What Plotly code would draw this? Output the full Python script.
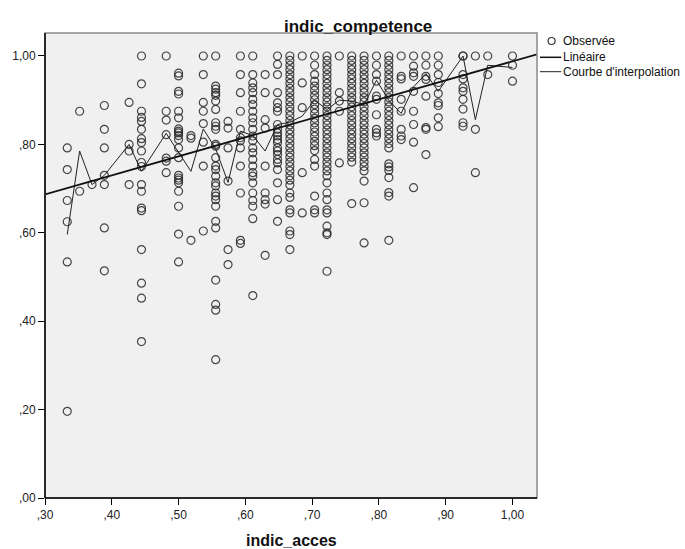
import plotly.graph_objects as go

# ---- data ----
acces_levels = [18/54, 19/54, 20/54, 21/54, 23/54, 24/54, 26/54, 27/54, 28/54, 29/54,
                30/54, 31/54, 32/54, 33/54, 34/54, 35/54, 36/54, 37/54, 38/54, 39/54,
                40/54, 41/54, 42/54, 43/54, 44/54, 45/54, 46/54, 47/54, 48/54, 50/54,
                51/54, 52/54, 54/54]

competence_by_level = [
    [0.792, 0.743, 0.673, 0.625, 0.534, 0.196],
    [0.875, 0.694],
    [0.709],
    [0.888, 0.834, 0.792, 0.730, 0.709, 0.611, 0.514],
    [0.895, 0.800, 0.785, 0.709],
    [1.0, 0.937, 0.875, 0.861, 0.852, 0.834, 0.813, 0.804, 0.785, 0.759, 0.750, 0.709,
     0.694, 0.656, 0.650, 0.562, 0.486, 0.452, 0.354],
    [1.0, 0.875, 0.855, 0.822, 0.769, 0.762, 0.736],
    [0.961, 0.955, 0.920, 0.914, 0.875, 0.860, 0.835, 0.830, 0.826, 0.820, 0.811, 0.792,
     0.770, 0.730, 0.724, 0.719, 0.713, 0.694, 0.660, 0.597, 0.534],
    [0.820, 0.814, 0.583],
    [1.0, 0.958, 0.895, 0.875, 0.847, 0.805, 0.751, 0.604],
    [1.0, 0.932, 0.925, 0.917, 0.911, 0.898, 0.879, 0.849, 0.841, 0.834, 0.800, 0.796,
     0.770, 0.751, 0.743, 0.728, 0.713, 0.706, 0.690, 0.683, 0.675, 0.660, 0.626, 0.611,
     0.493, 0.438, 0.425, 0.313],
    [0.852, 0.837, 0.792, 0.717, 0.562, 0.528],
    [1.0, 0.958, 0.917, 0.875, 0.834, 0.815, 0.808, 0.792, 0.751, 0.690, 0.583, 0.576],
    [1.0, 0.958, 0.939, 0.928, 0.917, 0.902, 0.890, 0.875, 0.860, 0.849, 0.834, 0.819,
     0.808, 0.792, 0.781, 0.766, 0.751, 0.736, 0.728, 0.713, 0.690, 0.673, 0.660, 0.632,
     0.458],
    [0.958, 0.917, 0.856, 0.837, 0.751, 0.690, 0.675, 0.665, 0.549],
    [1.0, 0.981, 0.958, 0.917, 0.894, 0.883, 0.875, 0.845, 0.834, 0.826, 0.819, 0.811,
     0.804, 0.792, 0.785, 0.777, 0.766, 0.758, 0.743, 0.713, 0.675, 0.626],
    [1.0, 0.990, 0.979, 0.969, 0.958, 0.948, 0.938, 0.927, 0.917, 0.906, 0.896, 0.885,
     0.875, 0.865, 0.854, 0.844, 0.833, 0.823, 0.813, 0.802, 0.792, 0.781, 0.771, 0.760,
     0.750, 0.740, 0.729, 0.719, 0.708, 0.690, 0.680, 0.652, 0.645, 0.604, 0.596, 0.562],
    [1.0, 0.939, 0.883, 0.736, 0.645],
    [1.0, 0.979, 0.958, 0.943, 0.932, 0.922, 0.911, 0.901, 0.890, 0.880, 0.870, 0.859,
     0.849, 0.838, 0.828, 0.818, 0.807, 0.797, 0.786, 0.766, 0.751, 0.683, 0.652, 0.645],
    [1.0, 0.990, 0.979, 0.969, 0.958, 0.948, 0.938, 0.927, 0.917, 0.906, 0.896, 0.885,
     0.875, 0.865, 0.854, 0.844, 0.833, 0.823, 0.813, 0.802, 0.792, 0.781, 0.771, 0.760,
     0.750, 0.740, 0.729, 0.713, 0.690, 0.675, 0.652, 0.645, 0.615, 0.600, 0.596, 0.513],
    [1.0, 0.917, 0.898, 0.875, 0.758],
    [1.0, 0.990, 0.979, 0.969, 0.958, 0.948, 0.938, 0.927, 0.917, 0.906, 0.896, 0.885,
     0.875, 0.865, 0.854, 0.844, 0.833, 0.823, 0.813, 0.802, 0.792, 0.781, 0.771, 0.760,
     0.666],
    [1.0, 0.990, 0.979, 0.969, 0.958, 0.948, 0.938, 0.927, 0.917, 0.906, 0.896, 0.885,
     0.875, 0.865, 0.854, 0.844, 0.833, 0.823, 0.813, 0.802, 0.792, 0.781, 0.771, 0.760,
     0.750, 0.740, 0.717, 0.668, 0.577],
    [1.0, 0.979, 0.958, 0.943, 0.909, 0.902, 0.867, 0.834, 0.826, 0.819],
    [1.0, 0.990, 0.979, 0.969, 0.958, 0.948, 0.938, 0.927, 0.917, 0.906, 0.896, 0.885,
     0.875, 0.865, 0.854, 0.844, 0.833, 0.823, 0.813, 0.802, 0.792, 0.756, 0.749, 0.741,
     0.725, 0.691, 0.683, 0.583],
    [1.0, 0.954, 0.948, 0.902, 0.875, 0.834, 0.819, 0.811],
    [1.0, 0.977, 0.962, 0.954, 0.920, 0.875, 0.845, 0.805, 0.702],
    [1.0, 0.979, 0.954, 0.947, 0.909, 0.838, 0.834, 0.777],
    [1.0, 0.979, 0.958, 0.940, 0.915, 0.894, 0.888, 0.860, 0.840],
    [1.0, 1.0, 0.958, 0.948, 0.928, 0.920, 0.902, 0.880, 0.849, 0.841],
    [1.0, 0.834, 0.736],
    [1.0, 0.958],
    [1.0, 0.979, 0.943],
]

# interpolation curve (mean of indic_competence at each indic_acces level)
interp_x = [18/54, 19/54, 20/54, 21/54, 23/54, 24/54, 26/54, 27/54, 28/54, 29/54,
            30/54, 31/54, 32/54, 33/54, 34/54, 35/54, 36/54, 37/54, 38/54, 39/54,
            40/54, 41/54, 42/54, 43/54, 44/54, 45/54, 46/54, 47/54, 48/54, 50/54,
            51/54, 52/54, 54/54]
interp_y = [0.596, 0.785, 0.709, 0.730, 0.800, 0.739, 0.825, 0.782, 0.739, 0.835,
            0.790, 0.714, 0.830, 0.820, 0.785, 0.845, 0.850, 0.864, 0.900, 0.879,
            0.900, 0.898, 0.890, 0.945, 0.900, 0.870, 0.930, 0.960, 0.920, 1.000,
            0.856, 0.979, 0.974]

# linear fit
lin_intercept = 0.558
lin_slope = 0.430

x_ticks = [0.3, 0.4, 0.5, 0.6, 0.7, 0.8, 0.9, 1.0]
x_tick_labels = [",30", ",40", ",50", ",60", ",70", ",80", ",90", "1,00"]
y_ticks = [0.0, 0.2, 0.4, 0.6, 0.8, 1.0]
y_tick_labels = [",00", ",20", ",40", ",60", ",80", "1,00"]

X_RANGE = [0.3, 1.0367]
Y_RANGE = [0.0, 1.052]

# ---- build figure ----
xs, ys = [], []
for lvl, vals in zip(acces_levels, competence_by_level):
    for v in vals:
        xs.append(lvl)
        ys.append(v)

FONT = "Liberation Sans, Arial, sans-serif"
fig = go.Figure()

fig.add_trace(go.Scatter(
    x=xs, y=ys, mode="markers",
    marker=dict(symbol="circle-open", size=8, color="rgba(40,40,40,0.85)",
                line=dict(width=1.2)),
    showlegend=False, hoverinfo="skip"))

fig.add_trace(go.Scatter(
    x=interp_x, y=interp_y, mode="lines",
    line=dict(color="#222222", width=1), showlegend=False, hoverinfo="skip"))

lx = [X_RANGE[0], X_RANGE[1]]
ly = [lin_intercept + lin_slope * v for v in lx]
fig.add_trace(go.Scatter(
    x=lx, y=ly, mode="lines", line=dict(color="#111111", width=1.8),
    showlegend=False, hoverinfo="skip"))

L, R, T, B = 41, 148, 33, 51
W, H = 685, 549
pw, ph = W - L - R, H - T - B


def px(xp):
    return (xp - L) / pw


def py(yp):
    return (H - B - yp) / ph


shapes = [
    dict(type="rect", xref="paper", yref="paper", x0=0, x1=1, y0=0, y1=1,
         line=dict(color="#8a8a8a", width=1.5), layer="above"),
    dict(type="line", xref="paper", yref="paper", x0=0, x1=0, y0=0, y1=1,
         line=dict(color="#000000", width=1.5), layer="above"),
    dict(type="line", xref="paper", yref="paper", x0=0, x1=1, y0=0, y1=0,
         line=dict(color="#000000", width=1.5), layer="above"),
    # legend glyphs
    dict(type="circle", xref="paper", yref="paper", xsizemode="pixel", ysizemode="pixel",
         xanchor=px(551.7), yanchor=py(41), x0=-3.5, x1=3.5, y0=-3.5, y1=3.5,
         line=dict(color="#333333", width=1.2)),
    dict(type="line", xref="paper", yref="paper", x0=px(540), x1=px(561.5),
         y0=py(57.3), y1=py(57.3), line=dict(color="#111111", width=1.5)),
    dict(type="line", xref="paper", yref="paper", x0=px(540), x1=px(561.5),
         y0=py(71.7), y1=py(71.7), line=dict(color="#222222", width=1)),
]

legend_font = dict(family=FONT, size=12, color="#111111")
annotations = [
    dict(text="<b>indic_competence</b>", xref="paper", yref="paper", x=px(357), y=py(27),
         xanchor="center", yanchor="middle", showarrow=False,
         font=dict(family=FONT, size=17, color="#111111")),
    dict(text="<b>indic_acces</b>", xref="paper", yref="paper", x=px(289), y=py(540),
         xanchor="center", yanchor="middle", showarrow=False,
         font=dict(family=FONT, size=16, color="#111111")),
    dict(text="Observée", xref="paper", yref="paper", x=px(561), y=py(41),
         xanchor="left", yanchor="middle", showarrow=False, font=legend_font),
    dict(text="Linéaire", xref="paper", yref="paper", x=px(561), y=py(57.3),
         xanchor="left", yanchor="middle", showarrow=False, font=legend_font),
    dict(text="Courbe d'interpolation", xref="paper", yref="paper", x=px(561), y=py(71.7),
         xanchor="left", yanchor="middle", showarrow=False, font=legend_font),
]

fig.update_layout(
    width=W, height=H,
    margin=dict(l=L, r=R, t=T, b=B, pad=0),
    paper_bgcolor="white", plot_bgcolor="#f0f0f0",
    showlegend=False,
    shapes=shapes, annotations=annotations,
    font=dict(family=FONT, size=12, color="#222222"),
)
fig.update_xaxes(range=X_RANGE, tickvals=x_ticks, ticktext=x_tick_labels,
                 ticks="outside", ticklen=6, tickcolor="#000", tickwidth=1,
                 showgrid=False, zeroline=False, showline=False,
                 tickfont=dict(family=FONT, size=12, color="#222222"))
fig.update_yaxes(range=Y_RANGE, tickvals=y_ticks, ticktext=y_tick_labels,
                 ticks="outside", ticklen=6, tickcolor="#000", tickwidth=1,
                 showgrid=False, zeroline=False, showline=False,
                 tickfont=dict(family=FONT, size=12, color="#222222"))

fig.write_html(
    "out.html",
    config={"displayModeBar": False, "staticPlot": True},
    post_script="document.body.style.margin='0';document.body.style.overflow='hidden';",
)
